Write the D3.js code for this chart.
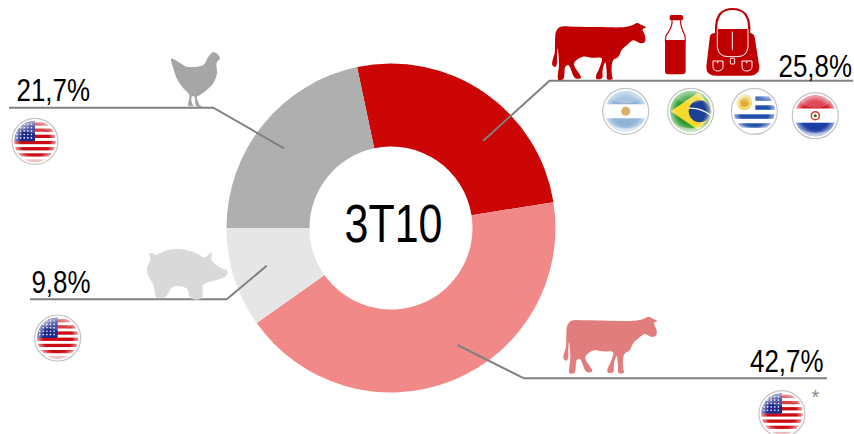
<!DOCTYPE html>
<html>
<head>
<meta charset="utf-8">
<script src="https://cdn.jsdelivr.net/npm/d3@7"></script>
<style>
    html, body { margin: 0; padding: 0; background: #fff; }
    text { font-family: "Liberation Sans", sans-serif; fill: #000; }
</style>
</head>
<body>
<div id="chart"></div>
<script>
// Data
var categories = ["Beef and products", "Beef", "Pork", "Chicken"];
var shares = [25.8, 42.7, 9.8, 21.7];
var colors = ["#cc0605", "#f28989", "#e6e6e6", "#afafaf"];
var centerLabel = "3T10";

var width = 854, height = 434;
var cx = 391, cy = 228, outerR = 164.5, innerR = 81.5;
var startAngle = -11.9 * Math.PI / 180;
// Liberation Sans squeezed to look like the narrow face in the reference
var narrow = 0.81;

var svg = d3.select("#chart").append("svg")
    .attr("width", width)
    .attr("height", height)
    .style("display", "block");
var defs = svg.append("defs");

// Donut
var pie = d3.pie().sort(null).startAngle(startAngle).endAngle(startAngle + 2 * Math.PI);
var arc = d3.arc().innerRadius(innerR).outerRadius(outerR);
svg.append("g")
    .attr("transform", `translate(${cx}, ${cy})`)
    .selectAll("path")
    .data(pie(shares))
    .enter()
    .append("path")
    .attr("d", arc)
    .attr("fill", (d, i) => colors[i]);

svg.append("text")
    .attr("transform", `translate(${cx + 2.5}, 241.5) scale(${narrow}, 1)`)
    .attr("text-anchor", "middle")
    .style("font-size", "53px")
    .text(centerLabel);

// Leader lines, one per category
var leaders = [
    [[483, 141], [549.5, 80.7], [853, 80.7]],
    [[457.5, 345], [524, 378.3], [827, 378.3]],
    [[266.7, 265.7], [226.7, 299.3], [30, 299.3]],
    [[284, 148.3], [213.3, 107.7], [9, 107.7]]
];
var lineGen = d3.line();
svg.selectAll(".leader")
    .data(leaders)
    .enter()
    .append("path")
    .attr("class", "leader")
    .attr("d", d => lineGen(d))
    .attr("fill", "none")
    .attr("stroke", "#808080")
    .attr("stroke-width", 2);

// Percent labels
var labelPos = [[852, 77], [823.5, 372], [90.5, 293], [90, 101]];
var pctFormat = d => d.toFixed(1).replace(".", ",") + "%";
svg.selectAll(".pct")
    .data(shares)
    .enter()
    .append("text")
    .attr("class", "pct")
    .attr("transform", (d, i) => `translate(${labelPos[i][0]}, ${labelPos[i][1]}) scale(${narrow}, 1)`)
    .attr("text-anchor", "end")
    .style("font-size", "32px")
    .text(pctFormat);

svg.append("text")
    .attr("x", 815.5)
    .attr("y", 404)
    .attr("text-anchor", "middle")
    .style("font-size", "20px")
    .style("fill", "#8c8c8c")
    .text("*");

// Silhouettes, traced at 3x and scaled down
var cowShape = [[30,36],[70,35],[140,36],[210,37],[230,35],[248,30],[262,24],[275,30],[288,37],[278,43],[285,62],[285,80],[272,85],[250,76],[235,86],[215,105],[205,125],[190,135],[185,155],[186,182],[188,192],[172,193],[170,170],[166,142],[158,165],[156,190],[140,192],[138,183],[148,160],[155,130],[125,128],[98,125],[72,146],[93,188],[76,190],[55,150],[46,155],[40,192],[25,194],[27,150],[26,125],[23,100],[21,125],[21,145],[16,156],[7,150],[8,135],[14,115],[15,80],[18,50]];
var chickenShape = [[514,56],[545,72],[560,80],[610,75],[625,50],[640,36],[652,42],[660,55],[650,68],[651,100],[640,130],[620,150],[600,165],[591,170],[600,196],[606,200],[589,199],[583,170],[575,170],[578,194],[582,197],[565,197],[568,165],[550,145],[530,115],[520,85]];
var pigShape = [[448,42],[456,38],[465,45],[500,31],[540,27],[590,40],[612,52],[635,38],[635,60],[665,85],[682,93],[678,108],[650,120],[630,125],[610,135],[605,175],[572,175],[560,145],[520,140],[495,172],[470,172],[460,135],[442,100],[442,80],[452,58],[450,50]];

var shapeLine = d3.line().curve(d3.curveCatmullRomClosed.alpha(0.5));
function silhouette(points, x, y, fill) {
    svg.append("path")
        .attr("transform", `translate(${x}, ${y}) scale(${1 / 3})`)
        .attr("d", shapeLine(points))
        .attr("fill", fill);
}
silhouette(cowShape, 550, 15, "#c00000");
silhouette(cowShape, 561.3, 308.7, "#e27d7d");
silhouette(chickenShape, 0, 40, "#a6a6a6");
silhouette(pigShape, 0, 240, "#d9d9d9");

// Bottle and bag, also 3x
var goods = svg.append("g")
    .attr("transform", "translate(660, 5) scale(0.3333)");
goods.append("rect")
    .attr("x", 29).attr("y", 30).attr("width", 40).attr("height", 16).attr("rx", 5)
    .attr("fill", "#c00000");
goods.append("path")
    .attr("d", "M36,46 L36,55 Q34,70 18,92 L16,108 M62,46 L62,55 Q64,70 75,92 L76,108")
    .attr("fill", "none").attr("stroke", "#c00000").attr("stroke-width", 3.5);
goods.append("path")
    .attr("d", "M15,105 L77,105 L77,198 Q77,208 67,208 L25,208 Q15,208 15,198 Z")
    .attr("fill", "#c00000");

goods.append("path")
    .attr("d", "M150,92 Q155,82 170,84 L265,84 Q280,82 284,96 L298,185 Q298,212 268,212 L168,212 Q138,212 139,185 Z")
    .attr("fill", "#c00000");
goods.append("path")
    .attr("d", "M165,120 L165,65 Q168,9 217,9 Q268,9 271,65 L271,120 Z")
    .attr("fill", "#c00000");
goods.append("path")
    .attr("d", "M172,72 L172,64 Q175,15 217,15 Q262,15 264,64 L264,72 Z")
    .attr("fill", "#fff");
goods.append("path")
    .attr("d", "M172,72 L172,125 Q175,155 205,155 L232,155 Q262,155 264,125 L264,72")
    .attr("fill", "none").attr("stroke", "#fff").attr("stroke-width", 3);
goods.append("path")
    .attr("d", "M217,80 L217,135 M159,168 L159,185 Q160,198 173,198 Q188,198 189,185 L189,168 Z M246,168 L246,185 Q247,198 260,198 Q275,198 276,185 L276,168 Z")
    .attr("fill", "none").attr("stroke", "#fff").attr("stroke-width", 3);
goods.append("rect")
    .attr("x", 211).attr("y", 160).attr("width", 13).attr("height", 17).attr("rx", 3)
    .attr("fill", "none").attr("stroke", "#fff").attr("stroke-width", 3);
goods.selectAll(".stud")
    .data([173, 260])
    .enter()
    .append("circle")
    .attr("cx", d => d).attr("cy", 172).attr("r", 2.5).attr("fill", "#fff");

// Glossy round flags
var gloss = defs.append("radialGradient").attr("id", "gloss");
gloss.append("stop").attr("offset", "68%").attr("stop-color", "#fff").attr("stop-opacity", 0);
gloss.append("stop").attr("offset", "100%").attr("stop-color", "#fff").attr("stop-opacity", 0.6);
var shine = defs.append("linearGradient").attr("id", "shine").attr("x1", 0).attr("x2", 0).attr("y1", 0).attr("y2", 1);
shine.append("stop").attr("offset", "0%").attr("stop-color", "#fff").attr("stop-opacity", 0.05);
shine.append("stop").attr("offset", "100%").attr("stop-color", "#fff").attr("stop-opacity", 0.6);
defs.append("clipPath").attr("id", "flagClip").append("circle").attr("r", 20.5);

var flagArt = {
    US: function(g) {
        g.append("rect").attr("x", -21).attr("y", -21).attr("width", 42).attr("height", 42).attr("fill", "#fff");
        d3.range(-19, 21, 6.2).forEach(y => {
            g.append("rect").attr("x", -21).attr("y", y).attr("width", 42).attr("height", 3.3).attr("fill", "#cc0a14");
        });
        g.append("rect").attr("x", -21).attr("y", -21).attr("width", 21).attr("height", 21).attr("fill", "#1f2a8c");
        d3.range(-18, 0, 3.6).forEach(x => {
            d3.range(-17, 0, 3.4).forEach(y => {
                g.append("circle").attr("cx", x).attr("cy", y).attr("r", 0.8).attr("fill", "#fff");
            });
        });
    },
    AR: function(g) {
        g.append("rect").attr("x", -21).attr("y", -21).attr("width", 42).attr("height", 42).attr("fill", "#8fb4d8");
        g.append("rect").attr("x", -21).attr("y", -7).attr("width", 42).attr("height", 14).attr("fill", "#fff");
        g.append("circle").attr("r", 4.5).attr("fill", "#d9b06a");
    },
    BR: function(g) {
        g.append("rect").attr("x", -21).attr("y", -21).attr("width", 42).attr("height", 42).attr("fill", "#2f9b2f");
        g.append("path").attr("d", "M-20,0 L8,-19 L24,0 L8,19 Z").attr("fill", "#f4d92a");
        g.append("circle").attr("cx", 9).attr("r", 11).attr("fill", "#1d3f94");
        g.append("path").attr("d", "M-2,-3 Q9,-4 20,4").attr("fill", "none").attr("stroke", "#fff").attr("stroke-width", 1.3);
    },
    UY: function(g) {
        g.append("rect").attr("x", -21).attr("y", -21).attr("width", 42).attr("height", 42).attr("fill", "#fff");
        [-15, -6].forEach(y => {
            g.append("rect").attr("x", 1).attr("y", y).attr("width", 21).attr("height", 4.5).attr("fill", "#1f4fa8");
        });
        [3, 12].forEach(y => {
            g.append("rect").attr("x", -21).attr("y", y).attr("width", 42).attr("height", 4.5).attr("fill", "#1f4fa8");
        });
        g.append("circle").attr("cx", -10).attr("cy", -9).attr("r", 8).attr("fill", "#f2d76b");
        g.append("circle").attr("cx", -10).attr("cy", -9).attr("r", 4.5).attr("fill", "#e0a830");
    },
    PY: function(g) {
        g.append("rect").attr("x", -21).attr("y", -21).attr("width", 42).attr("height", 14).attr("fill", "#d5182a");
        g.append("rect").attr("x", -21).attr("y", -7).attr("width", 42).attr("height", 14).attr("fill", "#fff");
        g.append("rect").attr("x", -21).attr("y", 7).attr("width", 42).attr("height", 14).attr("fill", "#1c3fa6");
        g.append("circle").attr("r", 4).attr("fill", "#fff").attr("stroke", "#c8442c").attr("stroke-width", 1.6);
        g.append("circle").attr("r", 1.5).attr("fill", "#2a6a2a");
    }
};

function flag(code, x, y) {
    var g = svg.append("g").attr("transform", `translate(${x}, ${y})`);
    g.append("circle").attr("r", 23).attr("fill", "#fff").attr("stroke", "#c4c4c4").attr("stroke-width", 1.2);
    var art = g.append("g").attr("clip-path", "url(#flagClip)");
    flagArt[code](art);
    art.append("circle").attr("r", 21).attr("fill", "url(#gloss)");
    art.append("ellipse").attr("cy", -14).attr("rx", 14).attr("ry", 6).attr("fill", "#fff").attr("opacity", 0.22);
    art.append("path").attr("d", "M-20,10 Q0,24 20,10 L20,21 L-20,21 Z").attr("fill", "url(#shine)");
}

flag("AR", 625.7, 111.3);
flag("BR", 690.7, 111.3);
flag("UY", 754.3, 111.3);
flag("PY", 815.3, 115.7);
flag("US", 35, 141.3);
flag("US", 57.7, 338);
flag("US", 782, 413.7);
</script>
</body>
</html>
